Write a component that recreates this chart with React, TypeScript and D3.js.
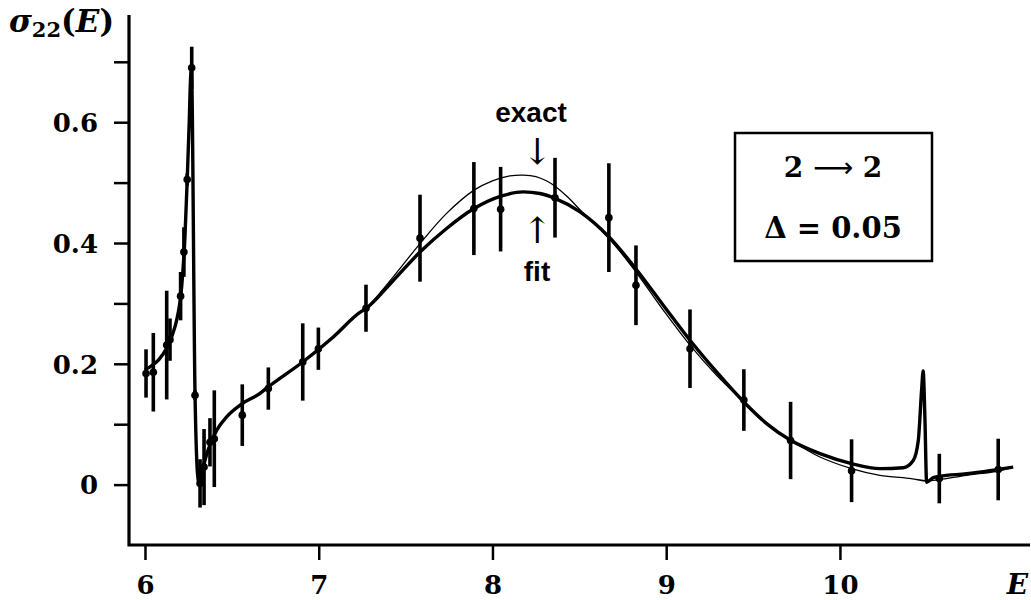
import React, { useEffect, useRef } from 'react'
import * as d3 from 'd3'

// measured points with error bars
const pointE = [6.006, 6.048, 6.125, 6.144, 6.205, 6.224, 6.243, 6.269, 6.288, 6.317, 6.340, 6.374, 6.399, 6.560, 6.710, 6.908, 6.998, 7.272, 7.583, 7.893, 8.047, 8.360, 8.670, 8.826, 9.137, 9.447, 9.716, 10.067, 10.572, 10.911]
const pointS = [0.184, 0.186, 0.231, 0.240, 0.312, 0.385, 0.505, 0.690, 0.148, 0.002, 0.029, 0.070, 0.076, 0.115, 0.159, 0.203, 0.225, 0.292, 0.408, 0.457, 0.456, 0.475, 0.442, 0.330, 0.225, 0.140, 0.073, 0.023, 0.010, 0.025]
const pointErr = [0.040, 0.065, 0.090, 0.035, 0.040, 0.041, 0.010, 0.035, 0.008, 0.040, 0.063, 0.040, 0.080, 0.051, 0.035, 0.064, 0.035, 0.039, 0.072, 0.077, 0.070, 0.066, 0.090, 0.066, 0.065, 0.051, 0.064, 0.052, 0.041, 0.051]

// thick line: fitted cross section
const fitE = [6.0, 6.029, 6.08, 6.125, 6.16, 6.182, 6.211, 6.230, 6.243, 6.255, 6.262, 6.267, 6.288, 6.298, 6.308, 6.316, 6.325, 6.336, 6.355, 6.374, 6.413, 6.470, 6.560, 6.662, 6.710, 6.908, 7.084, 7.237, 7.272, 7.429, 7.583, 7.736, 7.894, 8.049, 8.177, 8.273, 8.360, 8.504, 8.671, 8.826, 8.983, 9.137, 9.290, 9.447, 9.578, 9.716, 9.885, 10.067, 10.230, 10.364, 10.422, 10.451, 10.470, 10.479, 10.489, 10.499, 10.537, 10.572, 10.730, 10.911, 10.997]
const fitS = [0.190, 0.195, 0.207, 0.226, 0.250, 0.272, 0.327, 0.410, 0.504, 0.603, 0.670, 0.690, 0.150, 0.040, 0.005, 0.000, 0.012, 0.029, 0.050, 0.066, 0.090, 0.112, 0.134, 0.151, 0.162, 0.203, 0.2445, 0.285, 0.2915, 0.338, 0.385, 0.424, 0.457, 0.4776, 0.4847, 0.482, 0.474, 0.4516, 0.410, 0.357, 0.297, 0.239, 0.1866, 0.1368, 0.101, 0.0734, 0.0513, 0.0348, 0.0265, 0.028, 0.040, 0.073, 0.156, 0.188, 0.112, 0.004, 0.0116, 0.0137, 0.018, 0.0253, 0.029]

// thin line: exact cross section (same as fit below 7.27)
const exactE = [7.272, 7.429, 7.583, 7.736, 7.894, 8.0, 8.10, 8.177, 8.25, 8.31, 8.360, 8.43, 8.504, 8.671, 8.826, 8.983, 9.137, 9.290, 9.447, 9.578, 9.716, 9.885, 10.067, 10.230, 10.410, 10.499, 10.572, 10.730, 10.911, 10.997]
const exactS = [0.2915, 0.344, 0.399, 0.449, 0.4875, 0.503, 0.511, 0.5124, 0.510, 0.503, 0.494, 0.477, 0.455, 0.4075, 0.352, 0.289, 0.231, 0.181, 0.1368, 0.100, 0.0734, 0.0457, 0.0265, 0.0154, 0.010, 0.006, 0.0083, 0.0154, 0.0225, 0.029]

const xTicks = [6, 7, 8, 9, 10]
const yTicks = [0, 0.1, 0.2, 0.3, 0.4, 0.5, 0.6, 0.7]
const yTickLabels = ['0', '', '0.2', '', '0.4', '', '0.6', '']

const width = 1031
const height = 600
const serif = '"DejaVu Serif", serif'
const sans = '"Liberation Sans", sans-serif'

function Chart () {
  const ref = useRef<SVGSVGElement>(null)

  useEffect(() => {
    const svg = d3.select(ref.current)
    svg.selectAll('*').remove()

    const x = d3.scaleLinear().domain([5.908, 11.094]).range([129, 1030])
    const y = d3.scaleLinear().domain([-0.1, 0.7775]).range([545, 15])

    // axes
    const yAxis = svg.append('g')
      .attr('transform', 'translate(' + x.range()[0] + ',0)')
      .call(d3.axisLeft(y).tickValues(yTicks).tickSize(15).tickPadding(16)
        .tickFormat((d, i) => yTickLabels[i]))
    const xAxis = svg.append('g')
      .attr('transform', 'translate(0,' + y.range()[0] + ')')
      .call(d3.axisBottom(x).tickValues(xTicks).tickSize(15)
        .tickFormat(d3.format('d')))

    ;[xAxis, yAxis].forEach((ax) => {
      ax.select('.domain').remove()
      ax.selectAll('.tick line').attr('stroke', '#000').attr('stroke-width', 2.5)
      ax.selectAll('.tick text')
        .attr('font-family', serif)
        .attr('font-weight', 'bold')
        .attr('font-size', 26)
        .attr('fill', '#000')
    })
    yAxis.selectAll('.tick text').attr('dy', '0.36em')
    xAxis.selectAll('.tick text').attr('y', 49).attr('dy', 0)

    svg.append('path')
      .attr('d', d3.line()([[x.range()[0], y.range()[1]], [x.range()[0], y.range()[0]], [x.range()[1], y.range()[0]]]))
      .attr('fill', 'none')
      .attr('stroke', '#000')
      .attr('stroke-width', 3.2)

    // curves
    const line = d3.line<[number, number]>()
      .x((d) => x(d[0]))
      .y((d) => y(d[1]))

    const exact: [number, number][] = fitE.filter((e) => e < exactE[0]).map((e, i) => [e, fitS[i]] as [number, number])
      .concat(exactE.map((e, i) => [e, exactS[i]] as [number, number]))
    const fit: [number, number][] = fitE.map((e, i) => [e, fitS[i]])

    svg.append('path')
      .attr('d', line.curve(d3.curveCatmullRom.alpha(0.5))(exact))
      .attr('fill', 'none')
      .attr('stroke', '#000')
      .attr('stroke-width', 1.3)

    svg.append('path')
      .attr('d', line.curve(d3.curveMonotoneX)(fit))
      .attr('fill', 'none')
      .attr('stroke', '#000')
      .attr('stroke-width', 3.4)
      .attr('stroke-linejoin', 'round')

    // error bars and points
    const pts = pointE.map((e, i) => ({ e: e, s: pointS[i], err: pointErr[i] }))
    svg.append('g').selectAll('line')
      .data(pts)
      .enter().append('line')
        .attr('x1', (d) => x(d.e))
        .attr('x2', (d) => x(d.e))
        .attr('y1', (d) => y(d.s - d.err))
        .attr('y2', (d) => y(d.s + d.err))
        .attr('stroke', '#000')
        .attr('stroke-width', 3.6)
    svg.append('g').selectAll('circle')
      .data(pts)
      .enter().append('circle')
        .attr('cx', (d) => x(d.e))
        .attr('cy', (d) => y(d.s))
        .attr('r', 3.8)
        .attr('fill', '#000')

    // labels
    const yl = svg.append('text')
      .attr('x', 9)
      .attr('y', 32)
      .attr('font-family', serif)
      .attr('font-weight', 'bold')
      .attr('font-size', 31)
    yl.append('tspan').attr('font-style', 'italic').text('σ')
    yl.append('tspan').attr('font-size', 21).attr('dy', 5).text('22')
    yl.append('tspan').attr('dy', -5).text('(')
    yl.append('tspan').attr('font-style', 'italic').text('E')
    yl.append('tspan').text(')')

    svg.append('text')
      .attr('x', 1028)
      .attr('y', 594)
      .attr('text-anchor', 'end')
      .attr('font-family', serif)
      .attr('font-weight', 'bold')
      .attr('font-style', 'italic')
      .attr('font-size', 28)
      .text('E')

    // annotations
    svg.append('text')
      .attr('x', 531).attr('y', 122)
      .attr('text-anchor', 'middle')
      .attr('font-family', sans).attr('font-weight', 'bold').attr('font-size', 28)
      .text('exact')
    svg.append('text')
      .attr('x', 537).attr('y', 164)
      .attr('text-anchor', 'middle')
      .attr('font-family', serif).attr('font-size', 36)
      .text('↓')
    svg.append('text')
      .attr('x', 537).attr('y', 243)
      .attr('text-anchor', 'middle')
      .attr('font-family', serif).attr('font-size', 36)
      .text('↑')
    svg.append('text')
      .attr('x', 537).attr('y', 281)
      .attr('text-anchor', 'middle')
      .attr('font-family', sans).attr('font-weight', 'bold').attr('font-size', 28)
      .text('fit')

    // info box
    svg.append('rect')
      .attr('x', 735).attr('y', 133)
      .attr('width', 197).attr('height', 128)
      .attr('fill', 'none')
      .attr('stroke', '#000')
      .attr('stroke-width', 2.5)
    const t1 = svg.append('text')
      .attr('x', 833).attr('y', 177)
      .attr('text-anchor', 'middle')
      .attr('font-family', serif).attr('font-weight', 'bold').attr('font-size', 28)
    t1.append('tspan').text('2 ')
    t1.append('tspan').attr('font-family', '"DejaVu Sans", sans-serif').attr('font-weight', 'normal').text('⟶')
    t1.append('tspan').text(' 2')
    svg.append('text')
      .attr('x', 833).attr('y', 238)
      .attr('text-anchor', 'middle')
      .attr('font-family', serif).attr('font-weight', 'bold').attr('font-size', 29)
      .text('Δ = 0.05')
  }, [])

  return (
    <svg ref={ref} width={width} height={height}
      style={{ position: 'absolute', left: 0, top: 0, background: '#fff' }} />
  )
}

export default function App () {
  return <Chart />
}
